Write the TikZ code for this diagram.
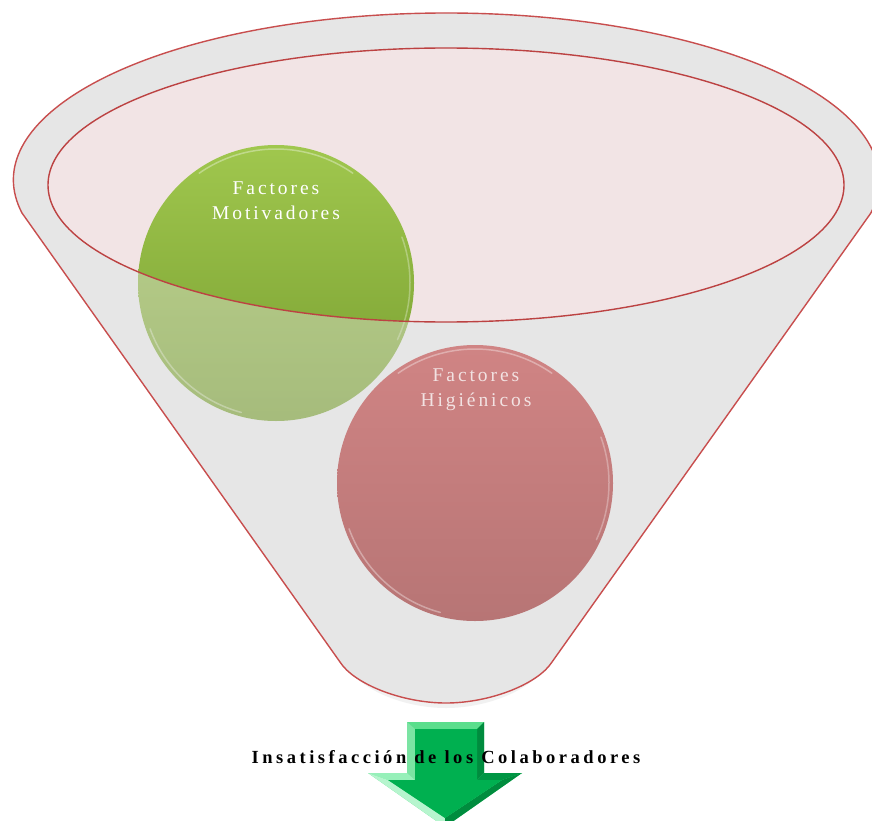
\documentclass[tikz,border=0pt]{standalone}
\usepackage{fontspec}
\setmainfont{Liberation Serif}

\definecolor{rim}{RGB}{200,78,78}
\definecolor{rimdark}{RGB}{188,66,66}
\definecolor{funnelgray}{RGB}{230,230,230}
\definecolor{mouthpink}{RGB}{242,228,229}
\definecolor{greentop}{RGB}{160,199,78}
\definecolor{greenbot}{RGB}{120,158,48}
\definecolor{redtop}{RGB}{208,132,132}
\definecolor{redbot}{RGB}{183,117,117}
\definecolor{redtext}{RGB}{242,226,226}
\definecolor{arrowface}{RGB}{0,176,80}
\definecolor{arrowlight}{RGB}{90,222,140}
\definecolor{arrowpale}{RGB}{150,240,185}
\definecolor{arrowdark}{RGB}{0,140,62}

\tikzset{
  funnel outline/.style={insert path={
    (22,-213) arc[start angle=191.4, end angle=-11.4, x radius=433, y radius=167]
    -- (552,-662) .. controls (538,-684) and (490,-703) .. (446,-703)
    .. controls (402,-703) and (354,-684) .. (340,-662)
    -- cycle}},
  mouth outline/.style={insert path={
    (446,-185) ellipse[x radius=398, y radius=137]}},
  ball/.style={circle, minimum size=276pt, inner sep=0pt},
  ballgloss/.style={white, line width=1.5pt, opacity=0.35, line cap=round},
  balltext/.style={align=center, font=\fontsize{19.5}{25}\selectfont\addfontfeature{LetterSpace=15}},
}

\begin{document}
\begin{tikzpicture}[x=1pt,y=1pt]
\clip (0,0) rectangle (872,-821);
\fill[white] (0,0) rectangle (872,-821);

% soft shadow under the funnel tip
\fill[black!15, opacity=0.35] (548,-662) .. controls (536,-688) and (490,-708) .. (446,-708)
  .. controls (402,-708) and (356,-688) .. (344,-662) -- cycle;

% funnel body and its open mouth
\fill[funnelgray, funnel outline];
\fill[mouthpink, mouth outline];

% motivating factors ball (partly inside the mouth)
\node[ball, top color=greentop, bottom color=greenbot] (motiv) at (276,-283) {};
\draw[ballgloss] ([shift={(55:134)}]motiv.center) arc[start angle=55, end angle=125, radius=134];
\draw[ballgloss] ([shift={(200:134)}]motiv.center) arc[start angle=200, end angle=255, radius=134];
\draw[ballgloss, opacity=0.3] ([shift={(-25:134)}]motiv.center) arc[start angle=-25, end angle=20, radius=134];
\node[balltext, white] (motivtext) at (276,-201) {Factores\\Motivadores};

% front wall of the funnel veils everything below the mouth
\fill[funnelgray, opacity=0.42, even odd rule, funnel outline, mouth outline];

% hygiene factors ball
\node[ball, top color=redtop, bottom color=redbot] (hygiene) at (475,-483) {};
\draw[ballgloss] ([shift={(55:134)}]hygiene.center) arc[start angle=55, end angle=125, radius=134];
\draw[ballgloss] ([shift={(200:134)}]hygiene.center) arc[start angle=200, end angle=255, radius=134];
\draw[ballgloss, opacity=0.3] ([shift={(-25:134)}]hygiene.center) arc[start angle=-25, end angle=20, radius=134];
\node[balltext, redtext] (hygienetext) at (476,-389.5) {Factores\\Higiénicos};

% outlines
\draw[rim, line width=1.4pt, funnel outline];
\draw[rimdark, line width=1.4pt, mouth outline];

% bevelled down arrow
\coordinate (a1) at (407,-722);
\coordinate (a2) at (484,-722);
\coordinate (a3) at (484,-773);
\coordinate (a4) at (522,-773);
\coordinate (a5) at (445,-827);
\coordinate (a6) at (368,-773);
\coordinate (a7) at (407,-773);
\coordinate (i1) at (415,-729);
\coordinate (i2) at (477,-729);
\coordinate (i3) at (477,-780);
\coordinate (i4) at (502,-780);
\coordinate (i5) at (445,-818);
\coordinate (i6) at (388,-780);
\coordinate (i7) at (415,-780);
\fill[arrowlight] (a1) -- (a2) -- (a3) -- (a4) -- (a5) -- (a6) -- (a7) -- cycle;
\fill[arrowlight] (a1) -- (a2) -- (i2) -- (i1) -- cycle;
\fill[arrowlight!80!white] (a1) -- (i1) -- (i7) -- (a7) -- cycle;
\fill[arrowpale] (a7) -- (a6) -- (i6) -- (i7) -- cycle;
\fill[arrowpale!70!white] (a6) -- (a5) -- (i5) -- (i6) -- cycle;
\fill[arrowdark] (a2) -- (a3) -- (i3) -- (i2) -- cycle;
\fill[arrowface!85!black] (a3) -- (a4) -- (i4) -- (i3) -- cycle;
\fill[arrowdark] (a4) -- (a5) -- (i5) -- (i4) -- cycle;
\fill[arrowface] (i1) -- (i2) -- (i3) -- (i4) -- (i5) -- (i6) -- (i7) -- cycle;

% result label
\node[anchor=base, font=\fontsize{18.5}{22}\selectfont\bfseries\addfontfeature{LetterSpace=19}] (result) at (446,-763)
  {Insatisfacción de los Colaboradores};
\end{tikzpicture}
\end{document}
